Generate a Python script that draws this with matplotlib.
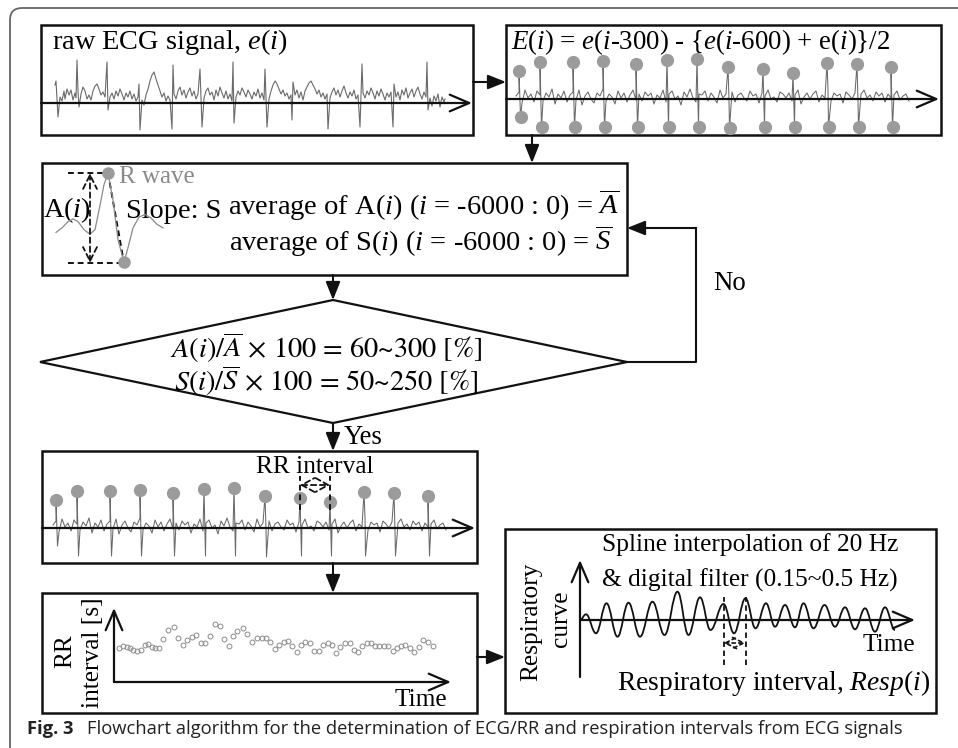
import matplotlib
matplotlib.use("Agg")
import matplotlib.pyplot as plt
from matplotlib.patches import Rectangle, Polygon, FancyBboxPatch, PathPatch
from matplotlib.path import Path

plt.rcParams['mathtext.fontset'] = 'custom'
plt.rcParams['mathtext.rm'] = 'Liberation Serif'
plt.rcParams['mathtext.it'] = 'Liberation Serif:italic'
plt.rcParams['mathtext.bf'] = 'Liberation Serif:bold'

# ---------------- data ----------------
# raw ECG e(i): time (px-scaled samples) and amplitude (a.u.)
raw_t = [0, 1, 3, 5, 7, 9, 10, 12, 14, 16, 18, 20, 21, 22, 23, 24, 26, 28, 30, 32, 34, 36, 38, 40, 42, 44, 46,
         48, 50, 52, 53, 55, 57, 59, 61, 63, 65, 67, 69, 71, 73, 75, 77, 79, 81, 83, 84, 85, 87, 89, 91, 93,
         95, 97, 99, 101, 103, 105, 107, 109, 111, 113, 115, 117, 118, 119, 121, 123, 125, 127, 129, 131,
         133, 135, 137, 139, 141, 143, 145, 147, 149, 151, 153, 155, 157, 159, 161, 163, 165, 167, 169, 171,
         173, 175, 177, 178, 179, 181, 183, 185, 187, 189, 191, 193, 195, 197, 199, 201, 203, 205, 207, 209,
         210, 212, 214, 216, 218, 220, 222, 224, 226, 228, 230, 232, 234, 236, 237, 238, 240, 242, 244, 246,
         248, 250, 252, 254, 256, 258, 260, 262, 264, 266, 268, 270, 272, 273, 275, 277, 279, 281, 283, 285,
         287, 289, 291, 293, 295, 297, 299, 301, 303, 305, 307, 308, 310, 312, 314, 316, 318, 320, 322, 324,
         326, 328, 330, 332, 334, 336, 338, 339, 341, 343, 345, 347, 349, 351, 353, 355, 357, 359, 361, 363,
         365, 367, 369, 371, 372, 373, 375, 377, 379, 381, 383, 385, 387, 389, 390]
raw_v = [18, 22, -14, 6, 2, 12, 4, 14, 8, 13, 3, 10, 5, 43, 12, -4, 9, 16, 12, 4, 8, 3, 12, 17, 19, 14, 8,
         11, 6, 41, -7, 6, 10, 4, 12, 7, 14, 9, 3, 10, 6, 12, 4, 9, 2, 6, 19, -27, 3, -2, 8, 14,
         22, 28, 31, 24, 18, 12, 6, 10, 2, 7, 3, -26, 38, 9, 4, 12, 16, 8, 13, 5,
         11, 15, 7, 12, 4, 9, 34, -24, 5, 12, 15, 8, 11, 3, 13, 7, 16, 10, 5, 12,
         4, 9, 2, 41, -20, 6, 12, 8, 15, 11, 6, 13, 9, 4, 11, 7, 14, 5, 10, 3,
         34, -24, 4, 12, 18, 22, 19, 14, 9, 13, 7, 10, 4, 8, -17, 21, 8, 13, 5, 11,
         3, 12, 16, 20, 22, 18, 14, 9, 13, 6, 10, 4, 9, -26, 5, 11, 15, 8, 13, 6,
         12, 17, 10, 5, 11, 7, 13, 4, 8, -24, 39, 10, 5, 12, 8, 15, 10, 4, 12, 7,
         14, 9, 3, 10, 6, 11, -24, 19, 6, 11, 3, 13, 8, 15, 5, 10, 14, 6, 12, 16,
         9, 4, 11, 6, 41, -7, 5, -3, 7, 2, 9, -4, 6, 1, 4]

# E(i) = e(i-300) - {e(i-600)+e(i)}/2 : detected R peaks (time, up, down) + background
e_peak_t = [3, 24, 57, 87, 120, 151, 181, 212, 247, 277, 311, 341, 375]
e_peak_up = [28, 37, 37, 38, 35, 39, 40, 32, 30, 26, 36, 35, 32]
e_peak_down = [-18, -28, -28, -28, -28, -28, -28, -29, -28, -28, -28, -28, -28]
e_noise = [3, 7, -4, 9, 1, 5, -3, 8, 4, -2, 6, 2, 10, -5, 5, 1, 8, -3, 4, 7, -1, 9, -6, 3, 7, 0, -4, 6, 3, 10,
           -2, 5, 2, -5, 8, 1, 6, -3, 4, 9, -1, 5, -2, 7, 3, 6, -5, 4, 1, 9, -3, 5, 8, 0, 3, -6, 7, 2, 10, 1,
           -3, 5, 4, 8, -2, 6, 2, -4, 9, 1, 5, -1, 7, -3, 4, 6, 1, -2, 8, 3, 5, -4, 6, 3, 9, 0, 2, -3, 7, 5,
           1, 6, -2, 4, 9, -5, 2, 6, 0, 5, 8, -3, 4, 1, 10, -2, 6, 3, 5, -4, 7, 4, 0, 6, -3, 5, 9, 1, 4, -2,
           7, 3, 6, -3, 5, 1, 4, 8, -1, 3, 5, -2]

# single beat for the A(i) / S(i) sketch (ms, normalised amplitude)
beat_t = [0, 24, 48, 68, 88, 112, 136, 156, 176, 192, 208, 228, 248, 272, 288, 308, 332, 356, 380, 404, 428]
beat_v = [0.34, 0.39, 0.46, 0.49, 0.46, 0.37, 0.32, 0.37, 0.64, 0.87, 1.0, 0.70, 0.26, 0.01, 0.17, 0.39,
          0.51, 0.54, 0.50, 0.43, 0.39]
r_idx, s_idx = 10, 13

# RR interval series (time [s], RR [s])
rr_t = [0.0, 0.8, 1.5, 2.1, 2.8, 3.5, 4.3, 5.1, 5.8, 6.5, 7.1, 8.0, 8.8, 9.8, 10.9, 11.8, 12.7, 13.5, 14.5,
        15.3, 16.3, 17.1, 18.1, 19.1, 20.1, 20.9, 21.9, 22.8, 23.6, 24.7, 25.6, 26.5, 27.5, 28.5, 29.3,
        30.1, 31.1, 32.0, 32.9, 33.8, 34.6, 35.5, 36.3, 37.2, 38.1, 39.0, 39.9, 40.7, 41.7, 42.5, 43.3,
        44.2, 45.1, 46.1, 46.9, 47.8, 48.6, 49.5, 50.3, 51.1, 52.0, 52.9, 53.8, 54.7, 55.5, 56.3, 57.2,
        58.1, 59.0, 60.0, 60.8, 61.8, 62.8]
rr_v = [0.760, 0.792, 0.780, 0.760, 0.740, 0.732, 0.740, 0.800, 0.812, 0.780, 0.768, 0.768, 0.872, 0.980,
        1.012, 0.880, 0.800, 0.860, 0.900, 0.920, 0.828, 0.828, 0.912, 1.048, 1.028, 0.868, 0.788, 0.908,
        0.972, 1.000, 0.928, 0.840, 0.880, 0.880, 0.880, 0.840, 0.748, 0.800, 0.840, 0.852, 0.788, 0.712,
        0.800, 0.840, 0.820, 0.728, 0.728, 0.800, 0.828, 0.800, 0.708, 0.780, 0.820, 0.820, 0.740, 0.712,
        0.788, 0.828, 0.820, 0.788, 0.788, 0.788, 0.788, 0.732, 0.760, 0.788, 0.800, 0.760, 0.720, 0.780,
        0.860, 0.840, 0.788]

# respiratory curve extrema (time [s], amplitude a.u.)
resp_t = [0, 1.2, 3.2, 5.3, 7.5, 9.7, 12.0, 14.5, 16.9, 19.5, 21.7, 24.0, 26.1, 28.7, 30.8, 33.1, 35.1,
          37.2, 39.0, 41.0, 43.0, 44.7, 46.7, 48.9, 51.0, 53.0, 55.0, 57.0, 59.0, 61.0, 63.0]
resp_v = [0, 5.7, -13.3, 16.7, -16.7, 17.3, -16.7, 18.3, -15, 28.3, -15, 22.7, -10, 16, -13.3, 21.7, -8.3,
          16.7, -6.7, 15, -7.3, 16.7, -8.3, 15, -6.7, 12.7, -9.3, 11.7, -11.7, 12.7, -10]
resp_mark = (13, 15)   # the two peaks that bound one respiratory interval

# ---------------- figure ----------------
W, H = 958, 748
fig = plt.figure(figsize=(W / 100, H / 100), dpi=100)
ax = fig.add_axes([0, 0, 1, 1])
ax.set_xlim(0, W)
ax.set_ylim(H, 0)
ax.axis('off')

SERIF = 'Liberation Serif'
FS = 20.4
FS2 = 18.3
BOXLW = 1.8
SIG = '#6a6a6a'
DOT = '#9b9b9b'


def box(x0, y0, x1, y1):
    ax.add_patch(Rectangle((x0, y0), x1 - x0, y1 - y0, fc='white', ec='#111111', lw=BOXLW, zorder=2))


def arrow(x0, y0, x1, y1):
    ax.annotate('', xy=(x1, y1), xytext=(x0, y0),
                arrowprops=dict(arrowstyle='-|>,head_length=0.55,head_width=0.22', color='#111111', lw=1.5,
                                shrinkA=0, shrinkB=0, mutation_scale=20), annotation_clip=False, zorder=5)


def open_arrow(a, x0, y0, x1, y1, coords='data'):
    a.annotate('', xy=(x1, y1), xytext=(x0, y0), xycoords=coords, textcoords=coords,
               arrowprops=dict(arrowstyle='->,head_length=0.7,head_width=0.3', color='#111111', lw=1.6,
                               shrinkA=0, shrinkB=0, mutation_scale=20), annotation_clip=False, zorder=6)


def inset(x0, y0, x1, y1, xlim, ylim):
    a = fig.add_axes([x0 / W, 1 - y1 / H, (x1 - x0) / W, (y1 - y0) / H])
    a.set_xlim(*xlim)
    a.set_ylim(*ylim)
    a.axis('off')
    a.patch.set_alpha(0)
    return a


# outer frame
ax.add_patch(FancyBboxPatch((10, 8), 1100, 900, boxstyle='round,pad=0,rounding_size=12',
                            fc='none', ec='#666666', lw=1.3, zorder=1))

# boxes
box(41, 25, 473, 135)
box(506, 25, 941, 135)
box(42, 163, 627, 275)
box(42, 451, 477, 563)
box(42, 593, 477, 713)
box(505, 529, 936, 713)
ax.add_patch(Polygon([(333, 300), (627, 362), (333, 423), (40, 362)], closed=True,
                     fc='white', ec='#111111', lw=1.6, zorder=2))

# connectors
arrow(473, 82, 506, 82)
arrow(532, 135, 532, 163)
arrow(333, 275, 333, 300)
arrow(333, 423, 333, 451)
arrow(333, 563, 333, 593)
arrow(477, 657, 505, 657)
ax.plot([627, 696, 696], [362, 362, 228], color='#111111', lw=1.5, zorder=3)
arrow(696, 228, 627, 228)
ax.text(713, 283, 'No', family=SERIF, fontsize=FS2 + 1, va='center', ha='left')
ax.text(344, 437, 'Yes', family=SERIF, fontsize=FS2 + 1, va='center', ha='left')

# ---- box 1: raw ECG ----
ax.text(52, 42, r'raw ECG signal, $e$($i$)', family=SERIF, fontsize=FS, va='center', ha='left', zorder=4)
a1 = inset(41, 25, 473, 135, (-14, 418), (-32, 78))
a1.plot(raw_t, raw_v, color=SIG, lw=0.8, zorder=3)
open_arrow(a1, -14, 0, 417, 0)

# ---- box 2: E(i) with positive and negative peaks ----
ax.text(511, 42, r'$E$($i$) = $e$($i$-300) - {$e$($i$-600) + e($i$)}/2', family=SERIF, fontsize=19.4,
        va='center', ha='left', zorder=4)
pts = [(3 * k, n) for k, n in enumerate(e_noise)]
pts += [(t, u) for t, u in zip(e_peak_t, e_peak_up)]
pts += [(t + 1.5, d) for t, d in zip(e_peak_t, e_peak_down)]
pts.sort()
sig_t = [p[0] for p in pts]
sig_v = [p[1] for p in pts]
a2 = inset(506, 25, 941, 135, (-10, 425), (-36, 74))
a2.plot(sig_t, sig_v, color=SIG, lw=0.75, zorder=3)
a2.plot(e_peak_t, e_peak_up, 'o', ms=8.5, color=DOT, zorder=4, clip_on=False)
a2.plot([t + 1.5 for t in e_peak_t], e_peak_down, 'o', ms=8.5, color=DOT, zorder=4, clip_on=False)
open_arrow(a2, -10, 0, 423, 0)

# ---- box 3: amplitude and slope ----
a3 = inset(56, 173, 163, 263, (0, 428), (0, 1))
a3.plot(beat_t, beat_v, color='#8a8a8a', lw=0.9, zorder=3, clip_on=False)
a3.plot([beat_t[r_idx], beat_t[s_idx]], [beat_v[r_idx], beat_v[s_idx]], 'o', ms=8, color=DOT,
        zorder=4, clip_on=False)
a3.plot([48, beat_t[r_idx]], [1, 1], ls=(0, (3, 2)), color='#111111', lw=1.4, clip_on=False)
a3.plot([48, beat_t[s_idx]], [0, 0], ls=(0, (3, 2)), color='#111111', lw=1.4, clip_on=False)
a3.plot([beat_t[r_idx], beat_t[s_idx]], [1, 0], ls=(0, (3, 2)), color='#111111', lw=1.4, clip_on=False)
a3.annotate('', xy=(136, 1), xytext=(136, 0),
            arrowprops=dict(arrowstyle='<->,head_length=0.5,head_width=0.25', ls=(0, (3, 2)), lw=1.3,
                            color='#111111', shrinkA=0, shrinkB=0, mutation_scale=20), annotation_clip=False)
ax.text(43, 210, r'A($i$)', family=SERIF, fontsize=FS, va='center', ha='left', zorder=4)
ax.text(119, 177, 'R wave', family=SERIF, fontsize=18, color='#8a8a8a', va='center', ha='left', zorder=4)
ax.text(126, 211, 'Slope: S', family=SERIF, fontsize=FS, va='center', ha='left', zorder=4)
ax.text(228, 205, r'average of A($i$) ($i$ = -6000 : 0) = $\overline{A}$', family=SERIF, fontsize=20.5,
        va='center', ha='left', zorder=4)
ax.text(229, 241, r'average of S($i$) ($i$ = -6000 : 0) = $\overline{S}$', family=SERIF, fontsize=20.5,
        va='center', ha='left', zorder=4)

# ---- diamond text ----
ax.text(326, 348, r'$A(i)/\overline{A}$ × 100 = 60~300 [%]', family='STIXGeneral',
        math_fontfamily='stix', fontsize=FS, ha='center', va='center', zorder=4)
ax.text(326, 381, r'$S(i)/\overline{S}$ × 100 = 50~250 [%]', family='STIXGeneral',
        math_fontfamily='stix', fontsize=FS, ha='center', va='center', zorder=4)

# ---- box 4: R peaks and RR interval ----
ax.text(315, 467, 'RR interval', family=SERIF, fontsize=FS2, ha='center', va='center', zorder=4)
a4 = inset(42, 451, 477, 563, (-11, 424), (-35, 77))
a4.plot(sig_t, sig_v, color=SIG, lw=0.75, zorder=3)
a4.plot(e_peak_t, e_peak_up, 'o', ms=8.5, color=DOT, zorder=4, clip_on=False)
open_arrow(a4, -11, 0, 422, 0)
for k in (8, 9):
    a4.plot([e_peak_t[k], e_peak_t[k]], [18, 52], ls=(0, (3, 2)), color='#111111', lw=1.4, zorder=5)
a4.annotate('', xy=(e_peak_t[9], 43), xytext=(e_peak_t[8], 43),
            arrowprops=dict(arrowstyle='<->,head_length=0.45,head_width=0.25', ls=(0, (3, 2)), lw=1.3,
                            color='#111111', shrinkA=0, shrinkB=0, mutation_scale=20))

# ---- box 5: RR interval series ----
a5 = inset(114, 608, 451, 682, (-1.06, 66.3), (0.357, 1.243))
a5.plot(rr_t, rr_v, 'o', ms=3.5, mfc='none', mec='#8a8a8a', mew=0.7, zorder=3)
open_arrow(a5, 0, 0, 0, 1, coords='axes fraction')
open_arrow(a5, 0, 0, 1, 0, coords='axes fraction')
ax.text(65, 651, 'RR', family=SERIF, fontsize=FS2, rotation=90, ha='center', va='center', zorder=4)
ax.text(93, 653, 'interval [s]', family=SERIF, fontsize=FS2, rotation=90, ha='center', va='center', zorder=4)
ax.text(447, 700, 'Time', family=SERIF, fontsize=FS2, ha='right', va='center', zorder=4)

# ---- box 6: respiratory curve ----
a6 = inset(580, 560, 915, 677, (0, 67), (-57, 60))
verts = [(resp_t[0], resp_v[0])]
codes = [Path.MOVETO]
for k in range(len(resp_t) - 1):
    t0, v0, t1, v1 = resp_t[k], resp_v[k], resp_t[k + 1], resp_v[k + 1]
    d = (t1 - t0) * 0.4
    verts += [(t0 + d, v0), (t1 - d, v1), (t1, v1)]
    codes += [Path.CURVE4] * 3
a6.add_patch(PathPatch(Path(verts, codes), fc='none', ec='#111111', lw=1.3, zorder=3))
open_arrow(a6, 0, -57, 0, 60)
open_arrow(a6, 0, 0, 67, 0)
m0, m1 = resp_mark
for k in resp_mark:
    a6.plot([resp_t[k], resp_t[k]], [-45, 23], ls=(0, (3, 2)), color='#111111', lw=1.3, zorder=4)
a6.annotate('', xy=(resp_t[m1], -23), xytext=(resp_t[m0], -23),
            arrowprops=dict(arrowstyle='<->,head_length=0.4,head_width=0.2', ls=(0, (2, 2)), lw=1.2,
                            color='#111111', shrinkA=0, shrinkB=0, mutation_scale=20))
ax.text(602, 545, 'Spline interpolation of 20 Hz', family=SERIF, fontsize=FS2, ha='left', va='center', zorder=4)
ax.text(602, 580, '& digital filter (0.15~0.5 Hz)', family=SERIF, fontsize=FS2, ha='left', va='center', zorder=4)
ax.text(915, 645, 'Time', family=SERIF, fontsize=FS2, ha='right', va='center', zorder=4)
ax.text(617, 683, r'Respiratory interval, $Resp$($i$)', family=SERIF, fontsize=19.8, ha='left', va='center',
        zorder=4)
ax.text(531, 622, 'Respiratory', family=SERIF, fontsize=FS2, rotation=90, ha='center', va='center', zorder=4)
ax.text(561, 619, 'curve', family=SERIF, fontsize=FS2, rotation=90, ha='center', va='center', zorder=4)

# ---- caption ----
ax.text(27, 729, 'Fig. 3', family='Open Sans', fontweight='bold', fontsize=13.2, ha='left', va='center',
        color='#222222')
ax.text(87, 729, 'Flowchart algorithm for the determination of ECG/RR and respiration intervals from ECG signals',
        family='Open Sans', fontsize=13.2, ha='left', va='center', color='#222222')

fig.savefig('out.png', dpi=100)
